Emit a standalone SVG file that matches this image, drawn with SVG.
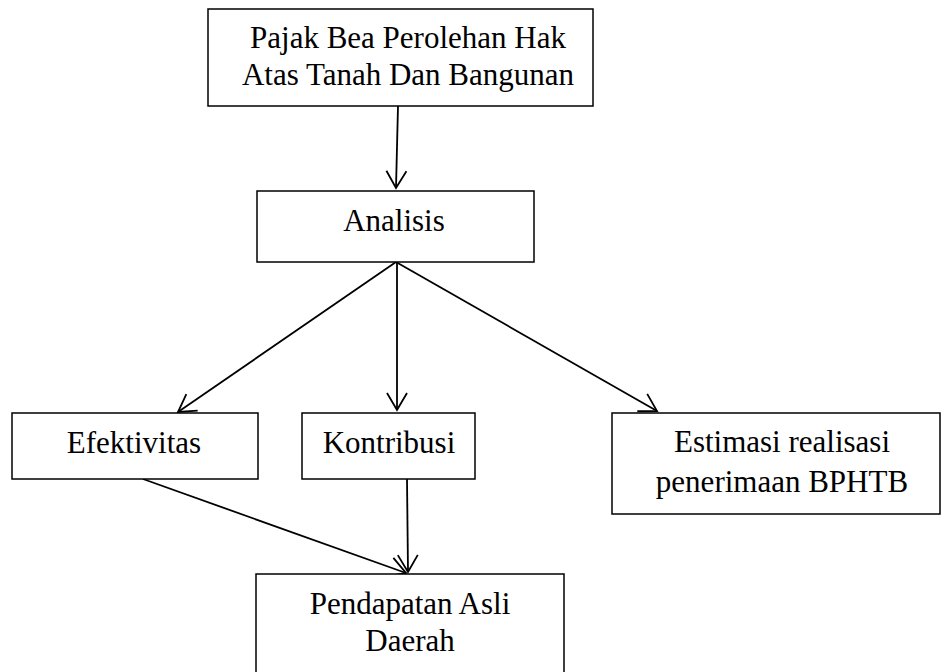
<svg xmlns="http://www.w3.org/2000/svg" width="942" height="672" viewBox="0 0 942 672">
<style>
  .box { fill: #ffffff; stroke: #000000; stroke-width: 1.5; }
  .lbl { font-family: "Liberation Serif", "Times New Roman", serif; font-size: 31px; fill: #000000; text-anchor: middle; }
  .conn { stroke: #000000; stroke-width: 1.8; fill: none; marker-end: url(#arr); }
</style>
<defs>
  <marker id="arr" markerUnits="userSpaceOnUse" markerWidth="22" markerHeight="24" refX="18" refY="11" orient="auto" viewBox="0 0 22 22">
    <path d="M1,1 L18,11 L1,21" fill="none" stroke="#000000" stroke-width="1.8"/>
  </marker>
</defs>
<rect width="942" height="672" fill="#ffffff"/>
<g id="connectors">
  <line class="conn" x1="398" y1="106" x2="396" y2="188"/>
  <line class="conn" x1="396" y1="262" x2="178" y2="412"/>
  <line class="conn" x1="397" y1="262" x2="397" y2="410"/>
  <line class="conn" x1="396" y1="262" x2="657" y2="411"/>
  <line class="conn" x1="143" y1="479" x2="406" y2="573"/>
  <line class="conn" x1="407" y1="479" x2="408" y2="572"/>
</g>
<g id="node-pajak">
  <rect class="box" x="208" y="9" width="385" height="97"/>
  <text class="lbl" x="408" y="48">Pajak Bea Perolehan Hak</text>
  <text class="lbl" x="408" y="85">Atas Tanah Dan Bangunan</text>
</g>
<g id="node-analisis">
  <rect class="box" x="257" y="191" width="277" height="71"/>
  <text class="lbl" x="394" y="231">Analisis</text>
</g>
<g id="node-efektivitas">
  <rect class="box" x="12" y="413" width="246" height="66"/>
  <text class="lbl" x="134" y="453">Efektivitas</text>
</g>
<g id="node-kontribusi">
  <rect class="box" x="302" y="413" width="173" height="66"/>
  <text class="lbl" x="389" y="453">Kontribusi</text>
</g>
<g id="node-estimasi">
  <rect class="box" x="612" y="413" width="328" height="101"/>
  <text class="lbl" x="782" y="452">Estimasi realisasi</text>
  <text class="lbl" x="782" y="492">penerimaan BPHTB</text>
</g>
<g id="node-pad">
  <rect class="box" x="256" y="574" width="308" height="110"/>
  <text class="lbl" x="410" y="614">Pendapatan Asli</text>
  <text class="lbl" x="410" y="651">Daerah</text>
</g>
</svg>
